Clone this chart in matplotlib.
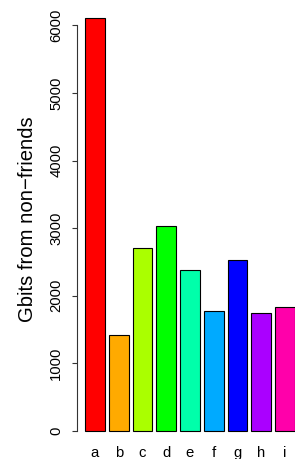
import matplotlib
matplotlib.use('Agg')
import matplotlib.pyplot as plt
import numpy as np

plt.rcParams['font.family'] = ['Liberation Sans', 'DejaVu Sans']

# du lieu
labels = ['a', 'b', 'c', 'd', 'e', 'f', 'g', 'h', 'i']
values = [6100, 1425, 2710, 3035, 2380, 1775, 2525, 1740, 1830]
colors = ['#FF0000', '#FFAA00', '#AAFF00', '#00FF00', '#00FFAA',
          '#00AAFF', '#0000FF', '#AA00FF', '#FF00AA']
yticks = [0, 1000, 2000, 3000, 4000, 5000, 6000]

fig = plt.figure(figsize=(2.95, 4.59), dpi=100)
ax = fig.add_axes([76.6 / 295, 11.5 / 459, 226.8 / 295, 445.5 / 459])

# vi tri cot kieu barplot cua R: width 1, space 0.2
x = 0.7 + 1.2 * np.arange(len(values))
ax.bar(x, values, width=1.0, color=colors, edgecolor='black', linewidth=0.8)

ax.set_xlim(-0.224, 11.224)
ax.set_ylim(-244, 6344)

ax.set_xticks(x)
ax.set_xticklabels(labels, fontsize=10.7)
ax.tick_params(axis='x', length=0, pad=-1)

ax.set_yticks(yticks)
ax.set_yticklabels([str(v) for v in yticks], fontsize=10.7, rotation=90, va='center')
ax.tick_params(axis='y', length=3.6, width=0.8, pad=6, color='#333333')

for s in ['top', 'right', 'bottom']:
    ax.spines[s].set_visible(False)
ax.spines['left'].set_bounds(0, 6000)
ax.spines['left'].set_linewidth(0.8)
ax.spines['left'].set_color('#333333')

fig.text(28 / 295, 1 - 219 / 459, 'Gbits from non\u2212friends', rotation=90,
         ha='center', va='center', fontsize=14.6)

fig.savefig('out.png', dpi=100)
